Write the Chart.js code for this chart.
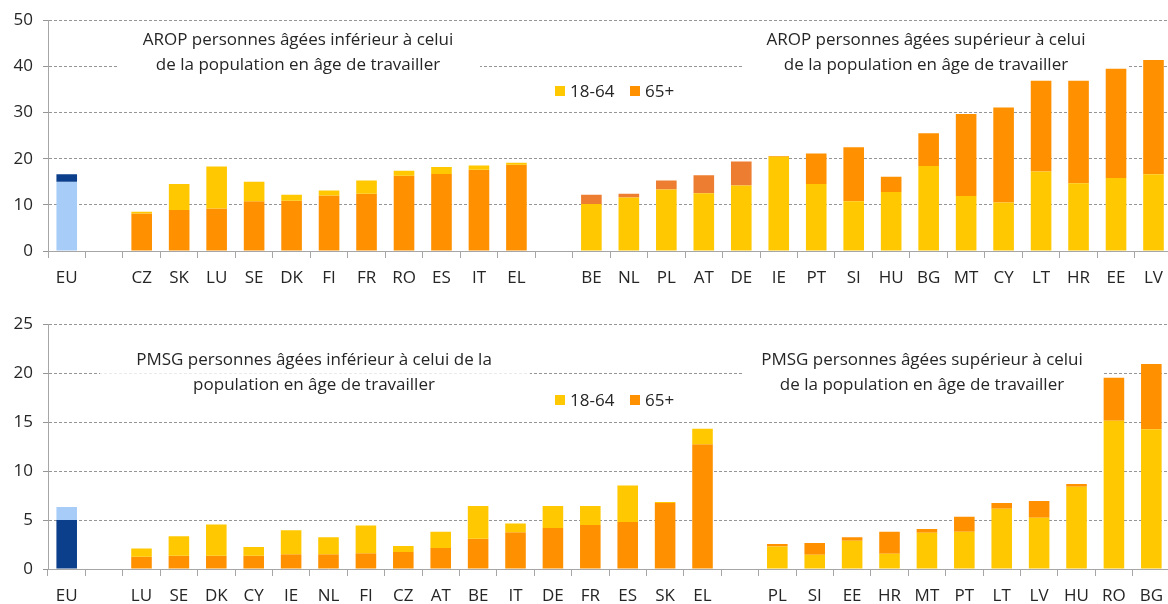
<!DOCTYPE html>
<html lang="fr">
<head>
<meta charset="utf-8">
<title>AROP et PMSG par âge</title>
<script src="https://cdn.jsdelivr.net/npm/chart.js@4.4.1/dist/chart.umd.min.js"></script>
<style>
  html, body { margin: 0; background: #fff; overflow: hidden; }
  body { width: 1168px; height: 604px; position: relative; }
  .bloc { position: absolute; left: 0; width: 1173px; }
  #haut { top: 0; height: 292px; }
  #bas { top: 300px; height: 310px; }
</style>
</head>
<body>
<div class="bloc" id="haut"><canvas id="arop"></canvas></div>
<div class="bloc" id="bas"><canvas id="pmsg"></canvas></div>
<script>
// taux AROP (%) par pays, 18-64 ans et 65 ans et plus
const pays_arop = ["EU", "", "CZ", "SK", "LU", "SE", "DK", "FI", "FR", "RO", "ES", "IT", "EL", "",
  "BE", "NL", "PL", "AT", "DE", "IE", "PT", "SI", "HU", "BG", "MT", "CY", "LT", "HR", "EE", "LV"];
const arop_1864 = [16.6, null, 8.5, 14.5, 18.3, 15.0, 12.2, 13.1, 15.3, 17.4, 18.2, 18.5, 19.1, null,
  10.2, 11.6, 13.3, 12.5, 14.2, 20.4, 14.5, 10.8, 12.8, 18.4, 11.9, 10.5, 17.2, 14.7, 15.8, 16.6];
const arop_65 = [15.0, null, 8.1, 8.9, 9.2, 10.8, 10.9, 12.0, 12.4, 16.3, 16.7, 17.6, 18.7, null,
  12.2, 12.4, 15.3, 16.4, 19.4, 20.6, 21.1, 22.5, 16.1, 25.5, 29.7, 31.1, 36.9, 36.9, 39.5, 41.4];

// taux PMSG (%) par pays
const pays_pmsg = ["EU", "", "LU", "SE", "DK", "CY", "IE", "NL", "FI", "CZ", "AT", "BE", "IT", "DE", "FR", "ES", "SK", "EL", "",
  "PL", "SI", "EE", "HR", "MT", "PT", "LT", "LV", "HU", "RO", "BG"];
const pmsg_1864 = [5.0, null, 2.1, 3.35, 4.55, 2.25, 3.95, 3.25, 4.45, 2.35, 3.8, 6.45, 4.65, 6.45, 6.45, 8.55, 6.85, 14.35, null,
  2.3, 1.45, 2.9, 1.55, 3.7, 3.8, 6.15, 5.25, 8.4, 15.15, 14.3];
const pmsg_65 = [6.35, null, 1.25, 1.35, 1.35, 1.35, 1.5, 1.5, 1.6, 1.75, 2.15, 3.1, 3.75, 4.2, 4.5, 4.8, 6.75, 12.75, null,
  2.55, 2.65, 3.25, 3.8, 4.1, 5.35, 6.75, 6.95, 8.7, 19.55, 20.95];

const age_labels = ["18-64", "65+"];

// pays dont la partie 65+ est tracée dans l'orange plus foncé (AROP)
const arop_fonce = ["BE", "NL", "PL", "AT", "DE"];

const jaune = "#FFC800";
const orange = "#FF9100";
const orange_fonce = "#ED7D31";
const bleu_fonce = "#0B3F8B";
const bleu_clair = "#A8CCF8";
const texte = "#262626";
const police = "'Open Sans', 'Liberation Sans', sans-serif";

// le plus petit des deux taux part de zéro, l'autre commence là où il s'arrête
function segments(a, b) {
  return a.map((v, i) => {
    if (v == null) return null;
    return v > b[i] ? [b[i], v] : [0, v];
  });
}

const encadres = {
  id: "encadres",
  beforeDatasetsDraw(chart, args, opts) {
    const ctx = chart.ctx;
    ctx.save();
    opts.boites.forEach((b) => {
      ctx.fillStyle = b.fond;
      ctx.fillRect(b.x, b.y, b.l, b.h);
      ctx.fillStyle = texte;
      ctx.font = "17px " + police;
      ctx.textAlign = "center";
      ctx.textBaseline = "middle";
      b.lignes.forEach((t, k) => ctx.fillText(t, b.cx, b.ty + k * 25));
    });
    // légende
    const lg = opts.legende;
    ctx.textAlign = "left";
    [jaune, orange].forEach((c, k) => {
      const x = lg.x + k * 75;
      ctx.fillStyle = c;
      ctx.fillRect(x, lg.y - 5, 10, 10);
      ctx.fillStyle = texte;
      ctx.fillText(age_labels[k], x + 15, lg.y + 1);
    });
    ctx.restore();
  }
};

function createGraph(canvas, labels, v1864, v65, couleur65, ymax, pas, hautPlot, boites, legende) {
  const c1864 = labels.map((p) => (p === "EU" ? bleu_fonce : jaune));
  const c65 = labels.map((p) => (p === "EU" ? bleu_clair : couleur65(p)));

  return new Chart(canvas, {
    type: "bar",
    data: {
      labels: labels,
      datasets: [
        { label: age_labels[0], data: segments(v1864, v65), backgroundColor: c1864 },
        { label: age_labels[1], data: segments(v65, v1864), backgroundColor: c65 },
      ],
    },
    options: {
      responsive: true,
      maintainAspectRatio: false,
      animation: false,
      layout: { padding: { top: hautPlot, left: 0, right: 0, bottom: 0 } },
      datasets: { bar: { grouped: false, barPercentage: 0.55, categoryPercentage: 1, borderWidth: 0 } },
      plugins: {
        legend: { display: false },
        tooltip: { enabled: false },
        encadres: { boites: boites, legende: legende },
      },
      scales: {
        x: {
          grid: { drawOnChartArea: false, drawTicks: true, tickLength: 7, color: "#A6A6A6", offset: true },
          border: { color: "#A6A6A6", width: 1 },
          ticks: { autoSkip: false, maxRotation: 0, color: texte, padding: 10, font: { family: police, size: 17 } },
          afterFit: (s) => { s.height = 41; },
        },
        y: {
          min: 0,
          max: ymax,
          ticks: { stepSize: pas, color: texte, padding: 10, font: { family: police, size: 17 } },
          grid: { color: "#959595", lineWidth: 1, tickLength: 5 },
          border: { color: "#A6A6A6", width: 1, dash: [3, 2] },
          afterFit: (s) => { s.width = 48; },
        },
      },
    },
    plugins: [encadres],
  });
}

createGraph(
  document.querySelector("#arop"),
  pays_arop, arop_1864, arop_65,
  (p) => (arop_fonce.includes(p) ? orange_fonce : orange),
  50, 10, 19,
  [
    { x: 117, y: 28, l: 363, h: 48, fond: "#fff", cx: 298, ty: 40,
      lignes: ["AROP personnes âgées inférieur à celui", "de la population en âge de travailler"] },
    { x: 742, y: 28, l: 385, h: 48, fond: "#fff", cx: 926, ty: 40,
      lignes: ["AROP personnes âgées supérieur à celui", "de la population en âge de travailler"] },
  ],
  { x: 555, y: 91 }
);

createGraph(
  document.querySelector("#pmsg"),
  pays_pmsg, pmsg_1864, pmsg_65,
  () => orange,
  25, 5, 24.5,
  [
    { x: 100, y: 45, l: 430, h: 50, fond: "rgba(255,255,255,0.8)", cx: 314, ty: 60,
      lignes: ["PMSG personnes âgées inférieur à celui de la", "population en âge de travailler"] },
    { x: 742, y: 45, l: 361, h: 50, fond: "#fff", cx: 922, ty: 60,
      lignes: ["PMSG personnes âgées supérieur à celui", "de la population en âge de travailler"] },
  ],
  { x: 555, y: 100 }
);
</script>
</body>
</html>
